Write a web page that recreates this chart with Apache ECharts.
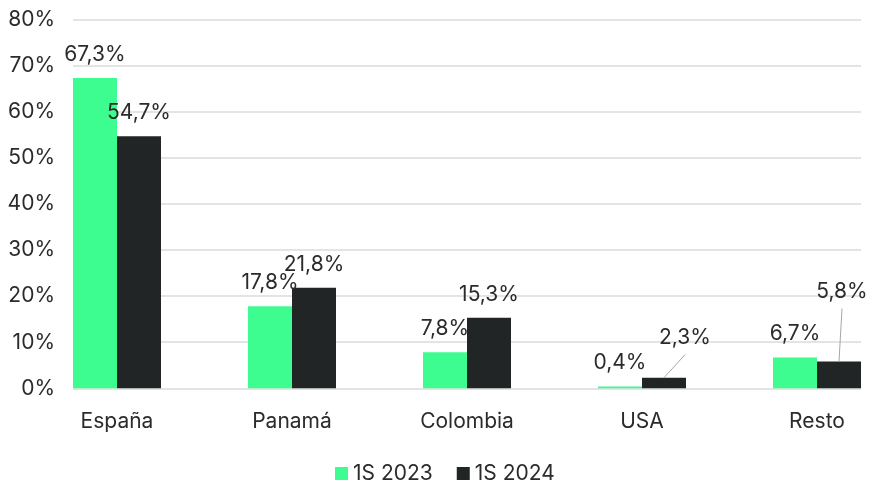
<!DOCTYPE html>
<html>
<head>
<meta charset="utf-8">
<script src="https://cdn.jsdelivr.net/npm/echarts@6/dist/echarts.min.js"></script>
<style>html,body{margin:0;padding:0;background:#fff;}#c{width:870px;height:481px;}</style>
</head>
<body>
<div id="c"></div>
<script>
const categories = ['España', 'Panamá', 'Colombia', 'USA', 'Resto'];
const seriesNames = ['1S 2023', '1S 2024'];
const values2023 = [67.3, 17.8, 7.8, 0.4, 6.7];
const values2024 = [54.7, 21.8, 15.3, 2.3, 5.8];
const yTicks = [0, 10, 20, 30, 40, 50, 60, 70, 80];

// Offsets (pixels) of the moved 1S 2024 labels and their leader lines
const movedLabels = {3: {dx: 21, dy: -17, lx: 21, ly: -23}, 4: {dx: 3, dy: -46, lx: 3, ly: -53}};

const FONT = 'Inter';
const TXT = '#2b2b2b';
const BAR_W = 44;
const fmt = v => v.toFixed(1).replace('.', ',') + '%';

const chart = echarts.init(document.getElementById('c'), null, {renderer: 'canvas'});

chart.setOption({
  animation: false,
  textStyle: {fontFamily: FONT},
  grid: [
    {left: 73, right: 9, top: 19.5, bottom: 92.7},
    {left: 117, right: 53, top: 19.5, bottom: 92.7}
  ],
  xAxis: [
    {gridIndex: 0, type: 'category', data: [''], show: false},
    {gridIndex: 1, type: 'category', data: categories, boundaryGap: false,
     axisLine: {show: false}, axisTick: {show: false},
     axisLabel: {color: TXT, fontSize: 21, fontFamily: FONT, margin: 23}}
  ],
  yAxis: [
    {gridIndex: 0, type: 'value', min: yTicks[0], max: yTicks[yTicks.length - 1], interval: 10,
     axisLine: {show: false}, axisTick: {show: false},
     axisLabel: {color: TXT, fontSize: 21, fontFamily: FONT, margin: 18, formatter: '{value}%'},
     splitLine: {lineStyle: {color: '#d9dcdb', width: 1.5}}},
    {gridIndex: 1, type: 'value', min: 0, max: 80, show: false, splitLine: {show: false}}
  ],
  legend: {
    top: 458, left: 330,
    itemWidth: 13, itemHeight: 13, itemGap: 24,
    icon: 'rect',
    textStyle: {color: TXT, fontSize: 21, fontFamily: FONT},
    data: seriesNames
  },
  series: [
    {
      name: seriesNames[0], type: 'bar', xAxisIndex: 1, yAxisIndex: 1,
      barWidth: BAR_W, barGap: '0%',
      itemStyle: {color: '#3dfc90'},
      label: {show: true, position: 'top', distance: 13, color: TXT, fontSize: 21, fontFamily: FONT,
              formatter: p => fmt(p.value)},
      data: values2023
    },
    {
      name: seriesNames[1], type: 'bar', xAxisIndex: 1, yAxisIndex: 1,
      barWidth: BAR_W, barGap: '0%',
      itemStyle: {color: '#212526'},
      label: {show: true, position: 'top', distance: 13, color: TXT, fontSize: 21, fontFamily: FONT,
              formatter: p => fmt(p.value)},
      labelLayout: p => {
        const m = movedLabels[p.dataIndex];
        return m ? {dx: m.dx, dy: m.dy} : {};
      },
      data: values2024
    },
    {
      type: 'custom', xAxisIndex: 1, yAxisIndex: 1, silent: true, z: 5,
      data: Object.keys(movedLabels).map(k => [Number(k), values2024[Number(k)]]),
      renderItem: (params, api) => {
        const idx = api.value(0);
        const p = api.coord([idx, api.value(1)]);
        const m = movedLabels[idx];
        const x0 = p[0] + BAR_W / 2, y0 = p[1];
        return {
          type: 'line',
          shape: {x1: x0, y1: y0, x2: x0 + m.lx, y2: y0 + m.ly},
          style: {stroke: '#a6a6a6', lineWidth: 1}
        };
      }
    }
  ]
});
</script>
</body>
</html>
